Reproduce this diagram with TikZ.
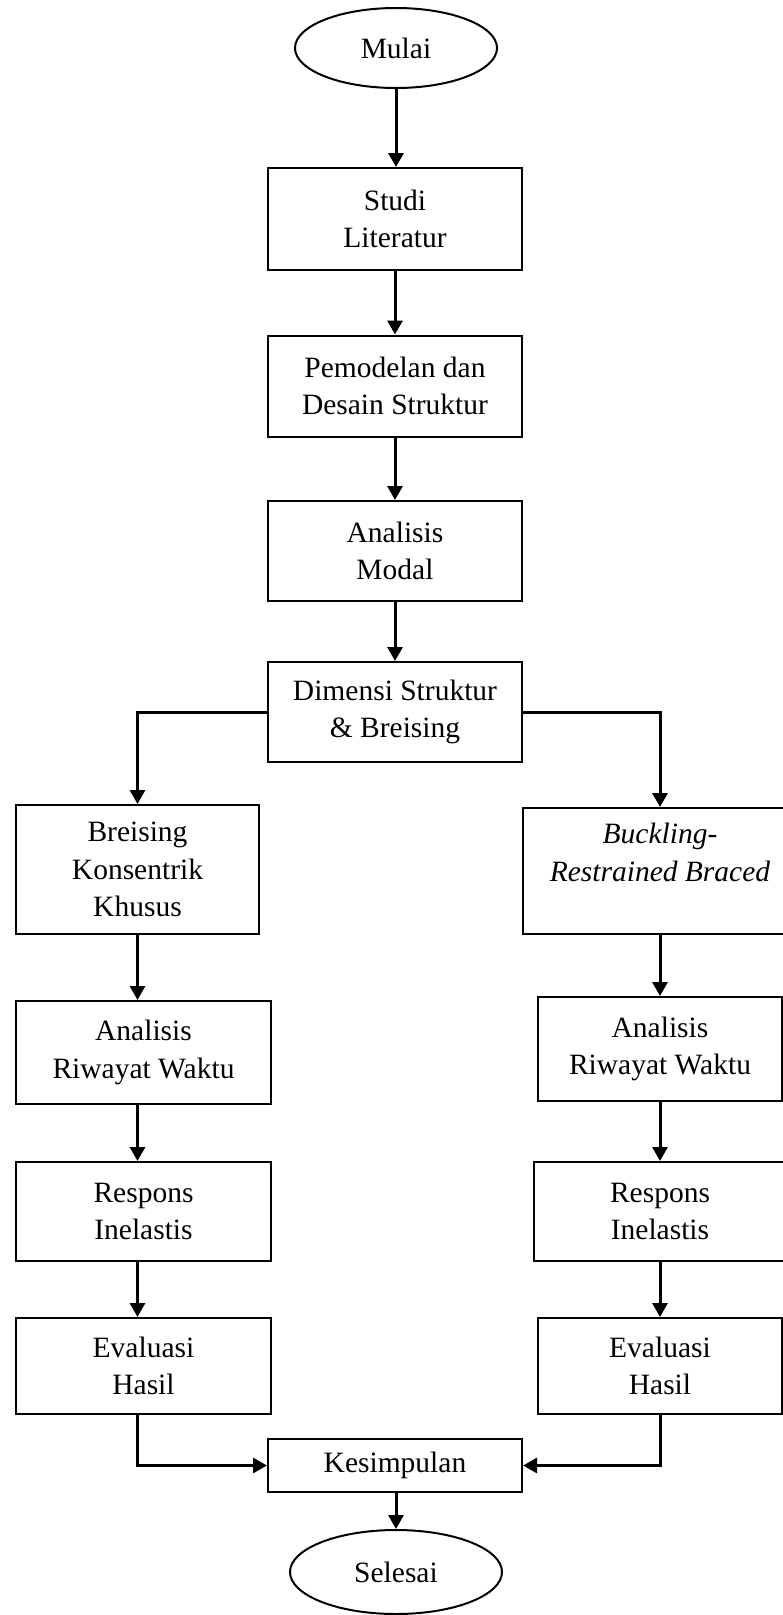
\documentclass[tikz,border=0pt]{standalone}
\usepackage{fontspec}
\setmainfont{Liberation Serif}
\usetikzlibrary{shapes.geometric,arrows.meta}

\begin{document}
\begin{tikzpicture}[x=1pt, y=-1pt,
  kotak/.style={draw, line width=2pt, align=center, inner sep=0pt, font=\fontsize{29.5}{37.5}\selectfont},
  terminal/.style={ellipse, draw, line width=2pt, inner sep=0pt, font=\fontsize{29.5}{37.5}\selectfont},
  panah/.style={-{Triangle[length=14pt,width=15pt]}, line width=3pt}]
\useasboundingbox (0,0) rectangle (783,1615);
\clip (0,0) rectangle (783,1615);

\node[terminal, minimum width=202pt, minimum height=80pt] (mulai) at (396,48) {Mulai};
\node[kotak, minimum width=254pt, minimum height=102pt] (studi) at (395,219) {Studi\\Literatur};
\node[kotak, minimum width=254pt, minimum height=101pt] (model) at (395,386) {Pemodelan dan\\Desain Struktur};
\node[kotak, minimum width=254pt, minimum height=100pt] (modal) at (395,551) {Analisis\\Modal};
\node[kotak, minimum width=254pt, minimum height=100pt] (dimensi) at (395,712) {Dimensi Struktur\\\& Breising};

% kiri
\node[kotak, minimum width=243pt, minimum height=129pt] (skbk) at (137.5,869.5) {Breising\\Konsentrik\\Khusus};
\node[kotak, minimum width=255pt, minimum height=103pt] (rwkiri) at (143.5,1052.5) {Analisis\\Riwayat Waktu};
\node[kotak, minimum width=255pt, minimum height=99pt] (reskiri) at (143.5,1211.5) {Respons\\Inelastis};
\node[kotak, minimum width=255pt, minimum height=96pt] (evkiri) at (143.5,1366) {Evaluasi\\Hasil};

% kanan
\node[kotak, minimum width=274pt, minimum height=126pt] (brb) at (660,871) {\textit{Buckling-}\\\textit{Restrained Braced}\\\mbox{}};
\node[kotak, minimum width=244pt, minimum height=104pt] (rwkanan) at (660,1049) {Analisis\\Riwayat Waktu};
\node[kotak, minimum width=252pt, minimum height=99pt] (reskanan) at (660,1211.5) {Respons\\Inelastis};
\node[kotak, minimum width=244pt, minimum height=96pt] (evkanan) at (660,1366) {Evaluasi\\Hasil};

\node[kotak, minimum width=254pt, minimum height=53pt] (simpul) at (395,1465.5) {Kesimpulan};
\node[terminal, minimum width=212pt, minimum height=84pt] (selesai) at (396,1572) {Selesai};

\draw[panah] (mulai.south) -- (mulai.south |- studi.north);
\draw[panah] (studi) -- (model);
\draw[panah] (model) -- (modal);
\draw[panah] (modal) -- (dimensi);
\draw[panah] (dimensi.west) -| (skbk.north);
\draw[panah] (dimensi.east) -| (brb.north);

\foreach \a/\b in {skbk/rwkiri, rwkiri/reskiri, reskiri/evkiri}
  \draw[panah] (skbk.south |- \a.south) -- (skbk.south |- \b.north);
\foreach \a/\b in {brb/rwkanan, rwkanan/reskanan, reskanan/evkanan}
  \draw[panah] (brb.south |- \a.south) -- (brb.south |- \b.north);

\draw[panah] (skbk.south |- evkiri.south) |- (simpul.west);
\draw[panah] (brb.south |- evkanan.south) |- (simpul.east);
\draw[panah] (simpul.south) -- (simpul.south -| selesai.north) -- (selesai.north);

\end{tikzpicture}
\end{document}
